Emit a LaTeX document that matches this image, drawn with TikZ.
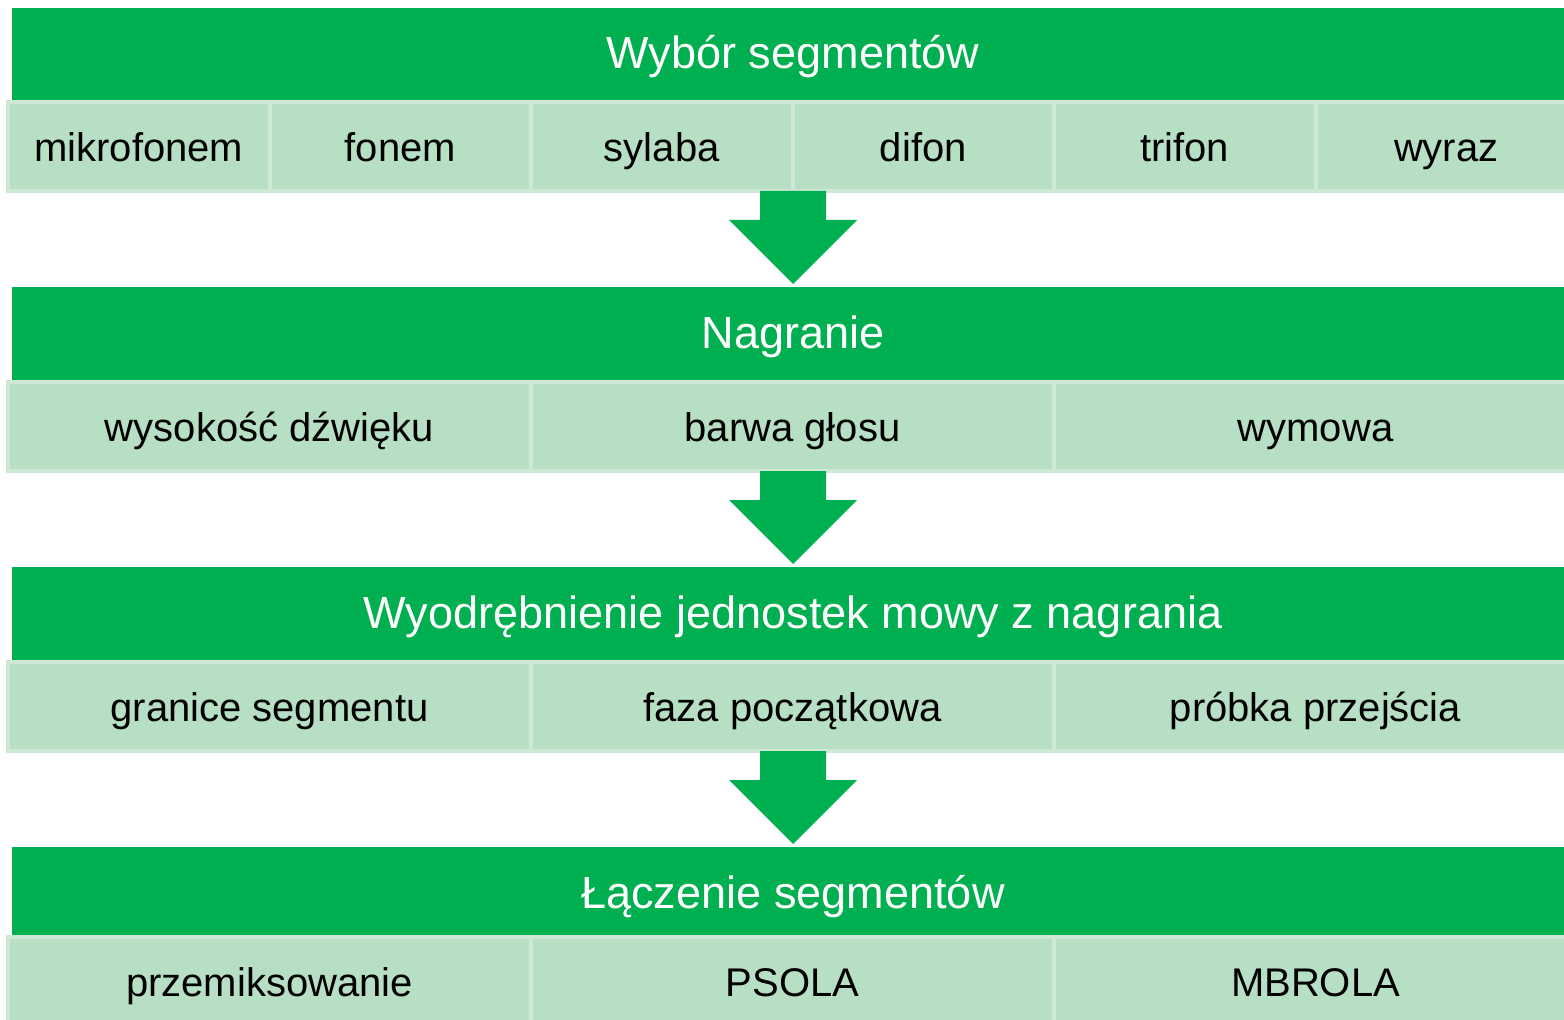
\documentclass[tikz,border=0pt]{standalone}
\usepackage{fontspec}
\setmainfont{Liberation Sans}
\usetikzlibrary{calc}
\definecolor{stagegreen}{HTML}{00B050}
\definecolor{cellfill}{HTML}{B7DFC4}
\definecolor{cellrule}{HTML}{CDE8D6}
\tikzset{
  x=0.75pt, y=-0.75pt,
  header/.style={rectangle, fill=stagegreen, inner sep=0pt,
    minimum width=1562*0.75pt, minimum height=94*0.75pt,
    text height=27.5pt, text depth=6.5pt,
    text=white, font=\fontsize{33.8}{40}\selectfont},
  cell/.style={rectangle, fill=cellfill, draw=cellrule, line width=3pt,
    inner sep=0pt, minimum height=89*0.75pt,
    text height=26pt, text depth=2.8pt,
    text=black, font=\fontsize{30}{36}\selectfont},
  cellsix/.style={cell, minimum width=261.5*0.75pt},
  cellthree/.style={cell, minimum width=523*0.75pt},
  blockarrow/.style={fill=stagegreen, draw=none}
}
% block arrow hanging below a named point
\newcommand{\stagearrow}[1]{%
  \fill[blockarrow] ($(#1)+(-33,0)$) -- ($(#1)+(33,0)$) -- ($(#1)+(33,29)$)
    -- ($(#1)+(64,29)$) -- ($(#1)+(0,93)$) -- ($(#1)+(-64,29)$)
    -- ($(#1)+(-33,29)$) -- cycle;}
\begin{document}
\begin{tikzpicture}
\clip (0,0) rectangle (1564,1020);
\fill[white] (0,0) rectangle (1564,1020);

% stage 1
\node[header] (h1) at (793,55) {Wybór segmentów};
\foreach \t [count=\i from 0] in {mikrofonem,fonem,sylaba,difon,trifon,wyraz}
  \node[cellsix] (c1\i) at (8+130.75+261.5*\i,146.5) {\t};
\coordinate (a1) at (793,191);

% stage 2
\node[header] (h2) at (793,334) {Nagranie};
\node[cellthree] (c20) at (269.5,426.5) {wysokość dźwięku};
\node[cellthree] (c21) at (792.5,426.5) {barwa głosu};
\node[cellthree] (c22) at (1315.5,426.5) {wymowa};
\coordinate (a2) at (793,471);

% stage 3
\node[header] (h3) at (793,614) {Wyodrębnienie jednostek mowy z nagrania};
\node[cellthree] (c30) at (269.5,706.5) {granice segmentu};
\node[cellthree] (c31) at (792.5,706.5) {faza początkowa};
\node[cellthree] (c32) at (1315.5,706.5) {próbka przejścia};
\coordinate (a3) at (793,751);

% stage 4
\node[header] (h4) at (793,894) {Łączenie segmentów};
\node[cellthree] (c40) at (269.5,981.5) {przemiksowanie};
\node[cellthree] (c41) at (792.5,981.5) {PSOLA};
\node[cellthree] (c42) at (1315.5,981.5) {MBROLA};

% arrows between stages
\stagearrow{a1}
\stagearrow{a2}
\stagearrow{a3}
\end{tikzpicture}
\end{document}
